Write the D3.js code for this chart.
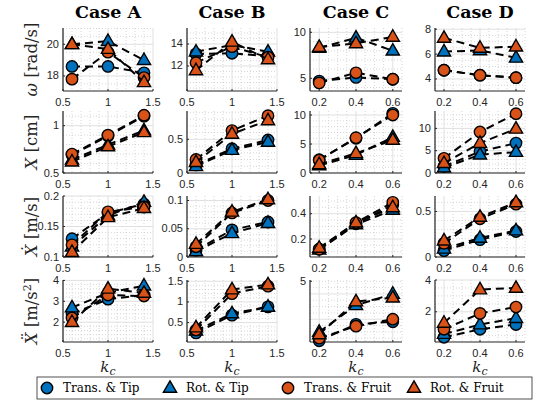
<!DOCTYPE html>
<html><head><meta charset="utf-8">
<script src="https://cdn.jsdelivr.net/npm/d3@7"></script>
<style>body{margin:0;background:#fff}</style>
</head><body><svg id="c" width="541" height="405"></svg>
<script>
// ---------- data ----------
const caseTitles = ["Case A", "Case B", "Case C", "Case D"];
const xValuesAB = [0.6, 1.0, 1.4];
const xValuesCD = [0.2, 0.4, 0.6];
const xDomainAB = [0.5, 1.5];
const xDomainCD = [0.15, 0.65];
const xTicksAB = [0.5, 1, 1.5];
const xTicksCD = [0.2, 0.4, 0.6];

const seriesNames = ["Trans. & Tip", "Rot. & Tip", "Trans. & Fruit", "Rot. & Fruit"];
const seriesColors = ["#0072BD", "#0072BD", "#D95319", "#D95319"];
const seriesShapes = ["circle", "triangle", "circle", "triangle"];

// each: [Case A, Case B, Case C, Case D]
const omegaTransTip  = [[18.6, 18.6, 18.2], [13.1, 13.15, 12.9], [4.7, 5.1, 4.9], [4.7, 4.3, 4.1]];
const omegaRotTip    = [[20.0, 20.2, 19.0], [13.3, 13.9, 13.3], [8.3, 9.4, 8.0], [6.2, 6.3, 5.7]];
const omegaTransFruit= [[17.8, 19.5, 17.9], [12.3, 13.75, 12.8], [4.5, 5.6, 4.9], [4.7, 4.3, 4.1]];
const omegaRotFruit  = [[20.0, 19.7, 17.6], [11.6, 14.2, 12.6], [8.4, 8.8, 9.5], [7.3, 6.5, 6.6]];

const dispTransTip   = [[0.69, 0.89, 1.10], [0.12, 0.36, 0.49], [2.3, 6.0, 10.3], [1.5, 4.8, 6.7]];
const dispRotTip     = [[0.64, 0.80, 0.95], [0.10, 0.34, 0.46], [1.3, 3.1, 6.2], [1.2, 4.1, 4.7]];
const dispTransFruit = [[0.70, 0.90, 1.11], [0.20, 0.63, 0.85], [2.2, 6.1, 10.0], [3.3, 9.2, 13.3]];
const dispRotFruit   = [[0.62, 0.78, 0.93], [0.16, 0.58, 0.78], [1.5, 3.4, 5.7], [2.2, 6.7, 9.9]];

const velTransTip    = [[0.130, 0.172, 0.187], [0.012, 0.048, 0.062], [0.12, 0.32, 0.47], [0.07, 0.19, 0.28]];
const velRotTip      = [[0.117, 0.168, 0.190], [0.010, 0.042, 0.060], [0.115, 0.315, 0.43], [0.09, 0.21, 0.29]];
const velTransFruit  = [[0.120, 0.174, 0.182], [0.018, 0.078, 0.100], [0.12, 0.33, 0.49], [0.15, 0.42, 0.58]];
const velRotFruit    = [[0.108, 0.165, 0.180], [0.023, 0.080, 0.102], [0.13, 0.33, 0.45], [0.18, 0.44, 0.60]];

const accTransTip    = [[2.4, 3.1, 3.3], [0.25, 0.68, 0.88], [0.3, 1.6, 1.8], [0.4, 0.9, 1.2]];
const accRotTip      = [[2.7, 3.4, 3.75], [0.30, 0.72, 0.88], [1.0, 3.1, 4.0], [0.6, 1.2, 1.6]];
const accTransFruit  = [[2.2, 3.3, 3.25], [0.32, 1.20, 1.38], [0.5, 1.45, 2.0], [0.9, 1.9, 2.3]];
const accRotFruit    = [[2.0, 3.6, 3.4], [0.38, 1.30, 1.42], [0.8, 3.4, 3.7], [1.3, 3.4, 3.5]];

// y axis limits and ticks per row, per case
const omegaYDomains = [[17.05, 21.03], [9.73, 15.45], [3.62, 10.47], [3.03, 8.1]];
const omegaYTicks   = [[18, 20], [12, 14], [5, 10], [4, 6, 8]];
const dispYDomains  = [[0.5, 1.155], [0, 0.92], [0, 10.7], [0, 13.9]];
const dispYTicks    = [[0.5, 1], [0, 0.5], [0, 5, 10], [0, 5, 10]];
const velYDomains   = [[0.1, 0.2], [0, 0.108], [0.058, 0.54], [0, 0.67]];
const velYTicks     = [[0.1, 0.15, 0.2], [0, 0.05, 0.1], [0.2, 0.4], [0, 0.5]];
const accYDomains   = [[1.05, 4.02], [0.03, 1.53], [0.2, 5.1], [0.1, 4.0]];
const accYTicks     = [[2, 3, 4], [0.5, 1, 1.5], [5], [2, 4]];

// ---------- layout ----------
const svg = d3.select("#c");
const colLeft = [63, 187, 310, 435];
const colWidth = [90, 90, 92, 90];
const rowTop = [28, 111, 196, 280];
const rowHeight = [63, 62, 61, 62];

const rows = [
  {series: [omegaTransTip, omegaRotTip, omegaTransFruit, omegaRotFruit], dom: omegaYDomains, ticks: omegaYTicks},
  {series: [dispTransTip, dispRotTip, dispTransFruit, dispRotFruit], dom: dispYDomains, ticks: dispYTicks},
  {series: [velTransTip, velRotTip, velTransFruit, velRotFruit], dom: velYDomains, ticks: velYTicks},
  {series: [accTransTip, accRotTip, accTransFruit, accRotFruit], dom: accYDomains, ticks: accYTicks}
];

function minorTicks(ticks, dom) {
  let step;
  if (ticks.length > 1) step = ticks[1] - ticks[0];
  else step = d3.tickStep(dom[0], dom[1], 3);
  const lead = +(step / Math.pow(10, Math.floor(Math.log10(step)))).toFixed(3);
  const n = (lead === 2) ? 4 : 5;
  const ms = step / n;
  const out = [];
  const start = Math.ceil(dom[0] / ms - 1e-6);
  for (let k = start; k * ms <= dom[1] + 1e-9; k++) out.push(k * ms);
  return out;
}
function majorGrid(ticks, dom) {
  if (ticks.length > 1) return ticks;
  return d3.ticks(dom[0], dom[1], 3).filter(v => v >= dom[0] && v <= dom[1]);
}

const tickFont = "'Liberation Sans', Arial, sans-serif";
const serif = "'DejaVu Serif', serif";

function marker(g, shape, x, y, color) {
  if (shape === "circle") {
    g.append("circle").attr("cx", x).attr("cy", y).attr("r", 5.7)
      .attr("fill", color).attr("stroke", "#000").attr("stroke-width", 1.4);
  } else {
    g.append("path").attr("d", d3.symbol(d3.symbolTriangle, 76)())
      .attr("transform", `translate(${x},${y + 0.5})`)
      .attr("fill", color).attr("stroke", "#000").attr("stroke-width", 1.4);
  }
}

rows.forEach((row, r) => {
  for (let c = 0; c < 4; c++) {
    const isAB = c < 2;
    const xs = isAB ? xValuesAB : xValuesCD;
    const x = d3.scaleLinear().domain(isAB ? xDomainAB : xDomainCD)
      .range([colLeft[c], colLeft[c] + colWidth[c]]);
    const y = d3.scaleLinear().domain(row.dom[c])
      .range([rowTop[r] + rowHeight[r], rowTop[r]]);
    const g = svg.append("g");
    const x0 = x.range()[0], x1 = x.range()[1], y0 = y.range()[0], y1 = y.range()[1];
    const xt = isAB ? xTicksAB : xTicksCD;
    const yt = row.ticks[c];
    const yg = majorGrid(yt, y.domain());

    // minor grid
    const mx = minorTicks(xt, x.domain()).filter(v => !xt.some(t => Math.abs(t - v) < 1e-9));
    const my = minorTicks(yg, y.domain()).filter(v => !yg.some(t => Math.abs(t - v) < 1e-9));
    g.selectAll(null).data(mx).join("line")
      .attr("x1", d => x(d)).attr("x2", d => x(d)).attr("y1", y1).attr("y2", y0)
      .attr("stroke", "#c4c4c4").attr("stroke-width", 0.7).attr("stroke-dasharray", "1,2");
    g.selectAll(null).data(my).join("line")
      .attr("y1", d => y(d)).attr("y2", d => y(d)).attr("x1", x0).attr("x2", x1)
      .attr("stroke", "#c4c4c4").attr("stroke-width", 0.7).attr("stroke-dasharray", "1,2");
    // major grid
    g.selectAll(null).data(xt).join("line")
      .attr("x1", d => x(d)).attr("x2", d => x(d)).attr("y1", y1).attr("y2", y0)
      .attr("stroke", "#dcdcdc").attr("stroke-width", 0.9);
    g.selectAll(null).data(yg).join("line")
      .attr("y1", d => y(d)).attr("y2", d => y(d)).attr("x1", x0).attr("x2", x1)
      .attr("stroke", "#dcdcdc").attr("stroke-width", 0.9);

    // axes
    g.append("line").attr("x1", x0).attr("x2", x0).attr("y1", y1).attr("y2", y0)
      .attr("stroke", "#262626").attr("stroke-width", 1.2);
    g.append("line").attr("x1", x0).attr("x2", x1).attr("y1", y0).attr("y2", y0)
      .attr("stroke", "#262626").attr("stroke-width", 1.2);
    // tick labels
    g.selectAll(null).data(xt).join("text")
      .attr("x", d => x(d)).attr("y", y0 + 15).attr("text-anchor", "middle")
      .attr("font-family", tickFont).attr("font-size", 11).attr("fill", "#262626")
      .text(d => d3.format("~g")(d));
    g.selectAll(null).data(yt).join("text")
      .attr("x", x0 - 4).attr("y", d => y(d) + 3.5).attr("text-anchor", "end")
      .attr("font-family", tickFont).attr("font-size", 11).attr("fill", "#262626")
      .text(d => d3.format("~g")(d));
    // tick marks (inward)
    g.selectAll(null).data(xt).join("line")
      .attr("x1", d => x(d)).attr("x2", d => x(d)).attr("y1", y0).attr("y2", y0 - 2)
      .attr("stroke", "#262626");
    g.selectAll(null).data(yt).join("line")
      .attr("y1", d => y(d)).attr("y2", d => y(d)).attr("x1", x0).attr("x2", x0 + 2)
      .attr("stroke", "#262626");

    // series
    row.series.forEach((s, si) => {
      const vals = s[c];
      const pts = vals.map((v, i) => [x(xs[i]), y(v)]);
      g.append("path").attr("d", d3.line()(pts)).attr("fill", "none")
        .attr("stroke", "#000").attr("stroke-width", 2).attr("stroke-dasharray", "8,5");
      pts.forEach(p => marker(g, seriesShapes[si], p[0], p[1], seriesColors[si]));
    });

    if (r === 0) {
      svg.append("text").attr("x", (x0 + x1) / 2).attr("y", 18).attr("text-anchor", "middle")
        .attr("font-family", serif).attr("font-weight", "bold").attr("font-size", 17.5)
        .attr("fill", "#000").text(caseTitles[c]);
    }
    if (r === 3) {
      const t = svg.append("text").attr("x", (x0 + x1) / 2).attr("y", 372).attr("text-anchor", "middle")
        .attr("font-family", serif).attr("font-size", 15).attr("fill", "#262626");
      t.append("tspan").attr("font-style", "italic").text("k");
      t.append("tspan").attr("font-style", "italic").attr("font-size", 11).attr("dy", 3).text("c");
    }
  }
});

// y labels
const yLabelSym = ["ω", "X", "Ẋ", "Ẍ"];
const yLabelUnit = [" [rad/s]", " [cm]", " [m/s]", " [m/s"];
rows.forEach((row, r) => {
  const cy = rowTop[r] + rowHeight[r] / 2;
  const t = svg.append("text").attr("transform", `translate(37,${cy}) rotate(-90)`)
    .attr("text-anchor", "middle").attr("font-family", serif).attr("font-size", 16.5)
    .attr("fill", "#262626");
  t.append("tspan").attr("font-style", "italic").text(yLabelSym[r]);
  t.append("tspan").text(yLabelUnit[r]);
  if (r === 3) {
    t.append("tspan").attr("font-size", 11).attr("dy", -6).text("2");
    t.append("tspan").attr("dy", 6).text("]");
  }
});

// legend
const lg = svg.append("g");
lg.append("rect").attr("x", 37).attr("y", 377).attr("width", 495).attr("height", 22)
  .attr("fill", "#fff").attr("stroke", "#262626").attr("stroke-width", 0.8);
const legX = [47, 170, 288, 414];
seriesNames.forEach((n, i) => {
  marker(lg, seriesShapes[i], legX[i], 388, seriesColors[i]);
  lg.append("text").attr("x", legX[i] + 16).attr("y", 392).attr("font-family", serif)
    .attr("font-size", 12).attr("fill", "#000").text(n);
});
</script></body></html>
